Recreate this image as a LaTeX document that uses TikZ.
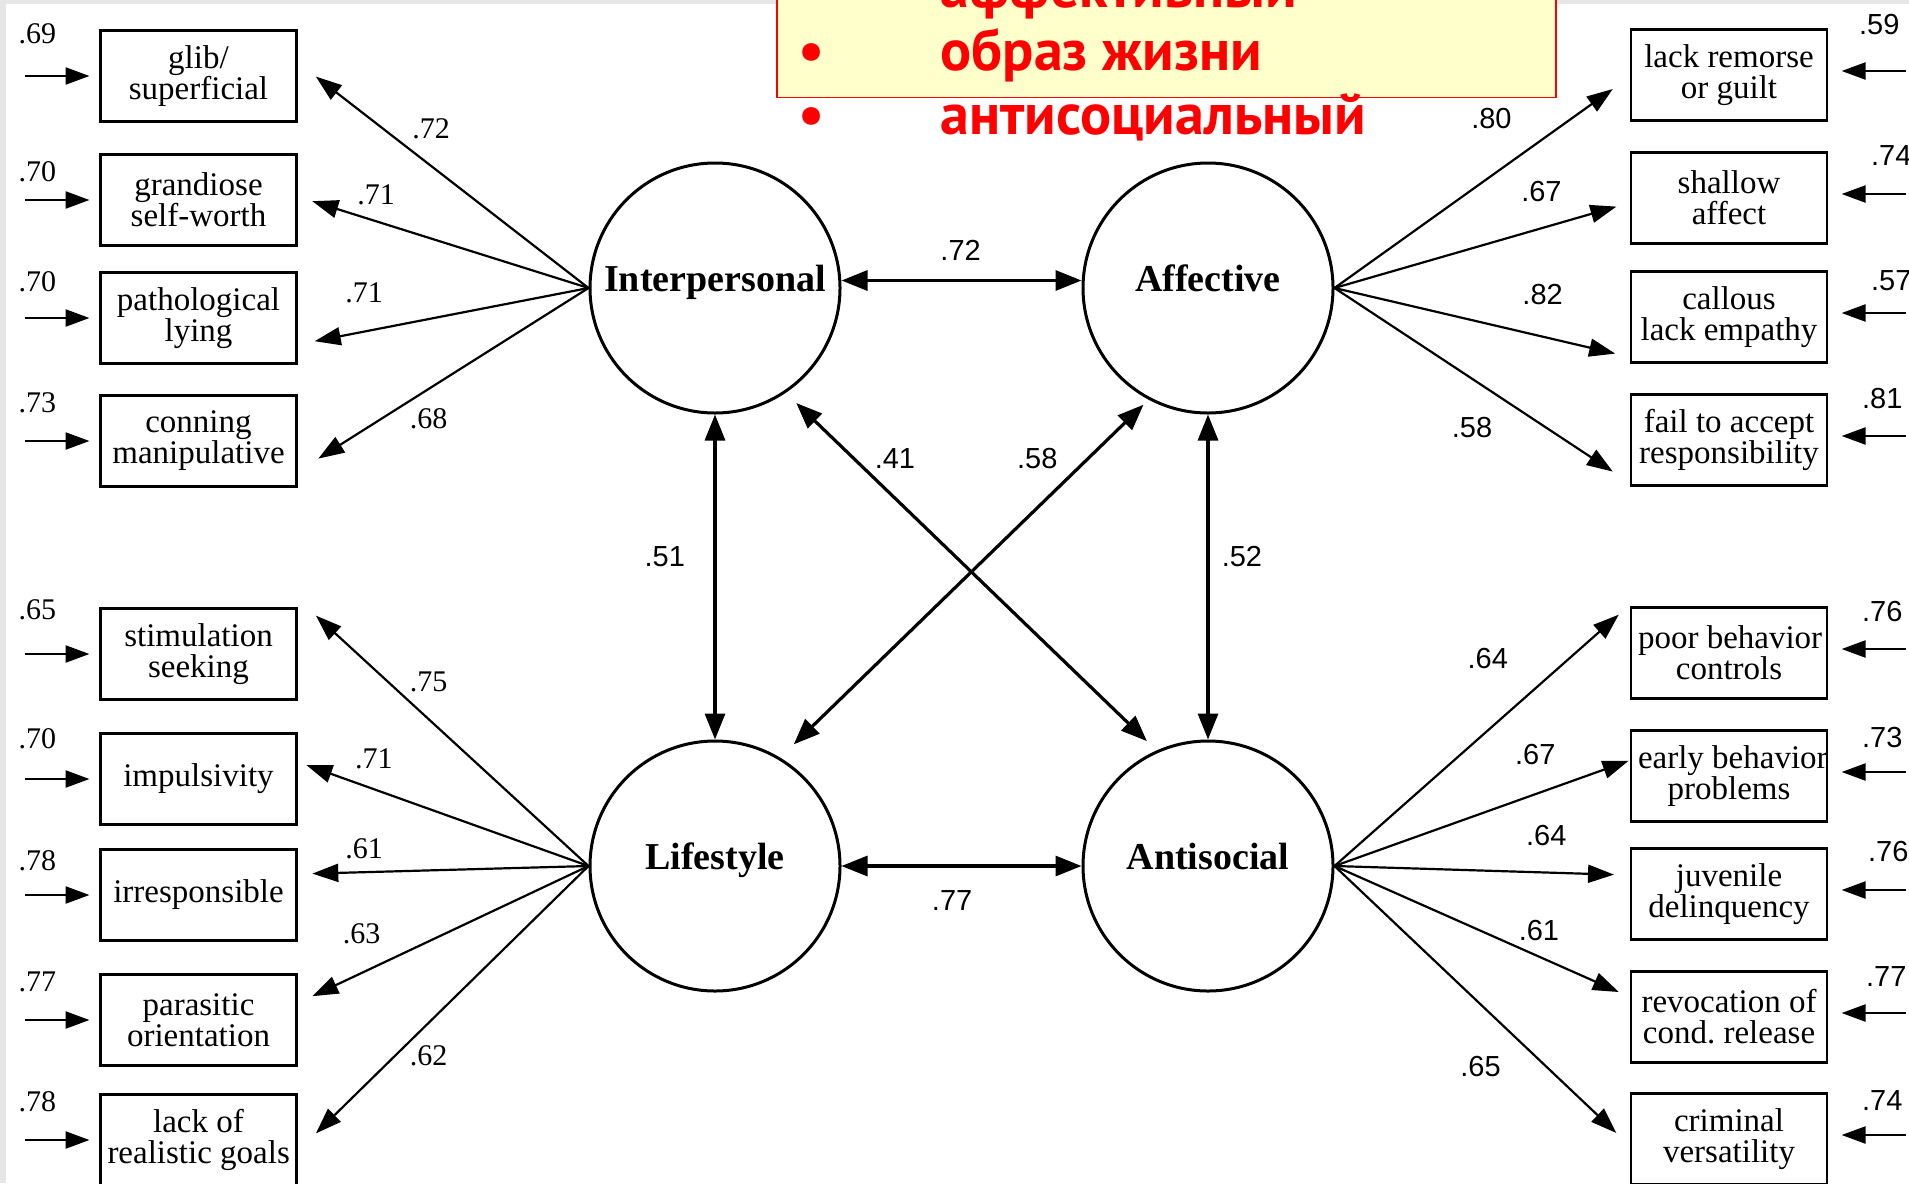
\documentclass[tikz,border=0pt]{standalone}
\usepackage{fontspec}
\setmainfont{Liberation Serif}
\setsansfont{Liberation Sans}
\newfontfamily\slidefont{PT Sans}
\usetikzlibrary{arrows.meta,positioning}

\definecolor{notefill}{HTML}{FFFFCC}
\definecolor{slidered}{HTML}{FF0000}
\definecolor{framegray}{HTML}{E6E6E6}
\newcommand\nohyph{\hyphenpenalty=10000\relax\exhyphenpenalty=10000\relax}

\begin{document}
\begin{tikzpicture}[
    x=0.5pt, y=-0.5pt,
    factor/.style={circle, draw, line width=1.5pt, minimum size=125pt, inner sep=0pt},
    factorname/.style={font=\fontsize{19}{19}\selectfont\bfseries, inner sep=0pt, text height=13pt, text depth=0pt},
    item/.style={rectangle, draw, line width=1.2pt, minimum height=45.5pt, text width=91pt, inner xsep=3.5pt, align=flush center, font=\fontsize{16.5}{15.5}\selectfont\nohyph},
    load/.style={line width=1.1pt, -{Triangle[length=13pt,width=9pt]}},
    corr/.style={line width=1.6pt, {Triangle[length=13pt,width=10pt]}-{Triangle[length=13pt,width=10pt]}},
    err/.style={line width=1.2pt, -{Triangle[length=12pt,width=8.5pt]}},
    coef/.style={font=\fontsize{15}{15}\selectfont, inner sep=0pt},
    coefsans/.style={font=\sffamily\fontsize{14.5}{14.5}\selectfont, inner sep=0pt},
    slide/.style={font=\slidefont\bfseries\fontsize{29}{29}\selectfont, text=slidered, inner sep=0pt},
    notebox/.style={draw=slidered, fill=notefill, line width=0.9pt}
]

\useasboundingbox (0,0) rectangle (1909,1183);
\fill[framegray] (0,0) rectangle (1909,1183);
\fill[white] (6,4) rectangle (1909,1183);

% Slide note on top
\draw[notebox] (777,-20) rectangle (1556,97.5);
\node[slide, anchor=base west] (affline) at (940,7) {аффективный};
\node[slide, anchor=base] (bul2) at (812,70.6) {•};
\node[slide, anchor=base west] (lifeline) at (940,70.6) {образ жизни};
\node[slide, anchor=base] (bul3) at (812,134) {•};
\node[slide, anchor=base west] (antiline) at (940,134) {антисоциальный};

% Factors
\node[factor, label={[factorname, name=interlab, yshift=4.9pt]center:Interpersonal}] (inter) at (715,288) {};
\node[factor, label={[factorname, name=afflab, yshift=4.9pt]center:Affective}] (aff) at (1208,288) {};
\node[factor, label={[factorname, name=lifelab, yshift=4.9pt]center:Lifestyle}] (life) at (715,866) {};
\node[factor, label={[factorname, name=antilab, yshift=4.9pt]center:Antisocial}] (anti) at (1208,866) {};

% Items, left
\node[item] (glib) at (198.5,76) {glib/\\superficial};
\node[item] (grandiose) at (198.5,200) {grandiose\\self-worth};
\node[item] (lying) at (198.5,318) {pathological\\lying};
\node[item] (conning) at (198.5,441) {conning\\manipulative};
\node[item] (stim) at (198.5,654) {stimulation\\seeking};
\node[item] (impuls) at (198.5,779) {impulsivity};
\node[item] (irresp) at (198.5,895) {irresponsible};
\node[item] (parasit) at (198.5,1020) {parasitic\\orientation};
\node[item] (goals) at (198.5,1140) {\mbox{lack of}\\\mbox{realistic goals}};

% Items, right
\node[item] (remorse) at (1729,75) {\mbox{lack remorse}\\\mbox{or guilt}};
\node[item] (shallow) at (1729,198) {shallow\\affect};
\node[item] (callous) at (1729,317) {callous\\\mbox{lack empathy}};
\node[item] (respons) at (1729,440) {\mbox{fail to accept}\\responsibility};
\node[item] (behav) at (1729,653) {\mbox{poor behavior}\\controls};
\node[item] (early) at (1729,776) {\mbox{early behavior}\\problems};
\node[item] (juven) at (1729,894) {juvenile\\delinquency};
\node[item] (revoc) at (1729,1017) {\mbox{revocation of}\\\mbox{cond.\ release}};
\node[item] (crimvers) at (1729,1139) {criminal\\versatility};

% Loadings
\foreach \b/\dx/\dy in {glib/9.1/-0.3, grandiose/7.3/-0.6, lying/8.5/-11.6, conning/10.3/-8.8}
    \draw[load] (inter.west) -- ([xshift=\dx pt, yshift=\dy pt]\b.east);
\foreach \b/\dx/\dy in {stim/9.1/19.2, impuls/4.3/7, irresp/7.3/10.7, parasit/7.3/11.9, goals/9.1/3.3}
    \draw[load] (life.west) -- ([xshift=\dx pt, yshift=\dy pt]\b.east);
\foreach \b/\dx/\dy in {remorse/-8.5/-7, shallow/-6.7/-4.3, callous/-7.3/-18.3, respons/-8.5/-15.8}
    \draw[load] (aff.east) -- ([xshift=\dx pt, yshift=\dy pt]\b.west);
\foreach \b/\dx/\dy in {behav/-5.5/19.2, early/-0.6/7.6, juven/-7.9/9.7, revoc/-5.5/12.5, crimvers/-6.7/3}
    \draw[load] (anti.east) -- ([xshift=\dx pt, yshift=\dy pt]\b.west);

% Loading values
\node[coef] (l1) at (431,129) {.72};
\node[coef] (l2) at (376,195) {.71};
\node[coef] (l3) at (364,293) {.71};
\node[coef] (l4) at (428.6,418.8) {.68};
\node[coef] (l5) at (428.6,681.8) {.75};
\node[coef] (l6) at (373.8,758.5) {.71};
\node[coef] (l7) at (364,848.6) {.61};
\node[coef] (l8) at (361.6,933.8) {.63};
\node[coef] (l9) at (428.6,1055.6) {.62};
\node[coefsans] (r1) at (1491.4,118.1) {.80};
\node[coefsans] (r2) at (1541.4,191.1) {.67};
\node[coefsans] (r3) at (1542.6,294.6) {.82};
\node[coefsans] (r4) at (1472,427.3) {.58};
\node[coefsans] (r5) at (1487.8,658.7) {.64};
\node[coefsans] (r6) at (1535.3,754.9) {.67};
\node[coefsans] (r7) at (1546.2,835.2) {.64};
\node[coefsans] (r8) at (1538.9,930.2) {.61};
\node[coefsans] (r9) at (1480.5,1066.5) {.65};

% Error terms
\foreach \b/\v/\dy in {glib/.69/21, grandiose/.70/14, lying/.70/18, conning/.73/19, stim/.65/22, impuls/.70/20, irresp/.78/17, parasit/.77/19, goals/.78/19} {
    \draw[err] ([xshift=-37pt]\b.west) -- ([xshift=-4.9pt]\b.west);
    \node[coef] (e\b) at ([xshift=-31pt, yshift=\dy pt]\b.west) {\v};
}
\foreach \b/\v/\dx/\dy in {remorse/.59/25.5/25, shallow/.74/31.5/21, callous/.57/31.5/18, respons/.81/27/20.5, behav/.76/27/20.5, early/.73/27/19, juven/.76/30/21, revoc/.77/29/20, crimvers/.74/27/19} {
    \draw[err] ([xshift=39pt, yshift=2pt]\b.east) -- ([xshift=6.7pt, yshift=2pt]\b.east);
    \node[coefsans] (e\b) at ([xshift=\dx pt, yshift=\dy pt]\b.east) {\v};
}

% Correlations between factors
\draw[corr] ([yshift=3.75pt]inter.east) -- ([yshift=3.75pt]aff.west);
\draw[corr] (inter.south) -- (life.north);
\draw[corr] (aff.south) -- (anti.north);
\draw[corr] (life.east) -- (anti.west);
\draw[corr, shorten <=7.3pt, shorten >=6.7pt] (inter.-56) -- (anti.114);
\draw[corr, shorten <=3.6pt, shorten >=9.5pt] (aff.-118) -- (life.59);

\node[coefsans] (k1) at (960.6,250.8) {.72};
\node[coefsans] (k2) at (664.8,556.4) {.51};
\node[coefsans] (k3) at (894.9,459) {.41};
\node[coefsans] (k4) at (1037.3,459) {.58};
\node[coefsans] (k5) at (1241.9,556.4) {.52};
\node[coefsans] (k6) at (952.1,901) {.77};

\end{tikzpicture}
\end{document}
